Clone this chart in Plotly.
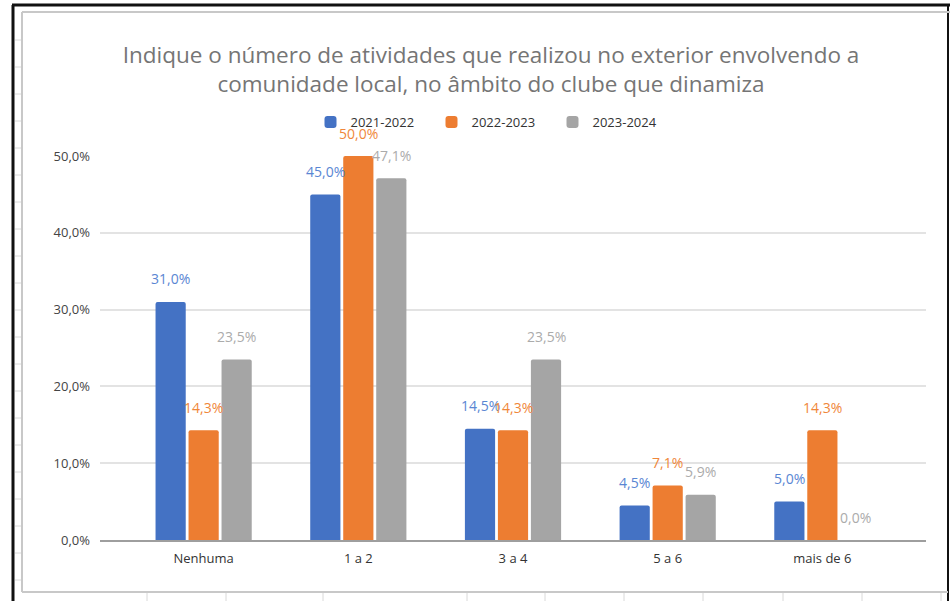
import plotly.graph_objects as go

categories = ["Nenhuma", "1 a 2", "3 a 4", "5 a 6", "mais de 6"]
series_names = ["2021-2022", "2022-2023", "2023-2024"]
v2122 = [31.0, 45.0, 14.5, 4.5, 5.0]
v2223 = [14.3, 50.0, 14.3, 7.1, 14.3]
v2324 = [23.5, 47.1, 23.5, 5.9, 0.0]
y_ticks = [0, 10, 20, 30, 40, 50]

series_values = [v2122, v2223, v2324]
bar_colors = ["#4472C4", "#ED7D31", "#A5A5A5"]
label_colors = ["#5A86D3", "#F0873A", "#ABABAB"]

W, H = 950, 601
L, R, T, B = 100, 24, 156, 61
BARGAP = 0.36
GROUPGAP = 0.085
FONT = "Open Sans"


def fmt(v):
    return f"{v:.1f}".replace(".", ",") + "%"


fig = go.Figure()
for name, vals, col in zip(series_names, series_values, bar_colors):
    fig.add_trace(go.Bar(x=categories, y=vals, name=name, marker_color=col,
                         marker_line_width=0))

annotations = []
slot = (1 - BARGAP) / len(series_values)
for i, (vals, lcol) in enumerate(zip(series_values, label_colors)):
    off = (i - (len(series_values) - 1) / 2) * slot
    for j, v in enumerate(vals):
        annotations.append(dict(x=j + off, y=v, xref="x", yref="y", text=fmt(v),
                                showarrow=False, yanchor="middle", yshift=23,
                                font=dict(family=FONT, size=14, color=lcol)))

pw, ph = W - L - R, H - T - B


def px(x):
    return (x - L) / pw


def py(y):
    return (H - B - y) / ph


shapes = []
def line(x0, y0, x1, y1, color, width):
    shapes.append(dict(type="line", xref="paper", yref="paper",
                       x0=px(x0), y0=py(y0), x1=px(x1), y1=py(y1),
                       line=dict(color=color, width=width), layer="above"))

# outer screenshot frame
line(12, 5, 950, 5, "#111111", 3)
line(13, 5, 13, 601, "#111111", 3)
line(948, 5, 948, 601, "#111111", 2)
# inner chart frame
line(22, 12, 950, 12, "#C8C8C8", 2)
line(22, 12, 22, 592, "#C8C8C8", 2)
line(22, 592, 948, 592, "#C8C8C8", 2)
# spreadsheet grid peeking below
for gx in [147, 226, 323, 467, 545, 624, 703, 783, 862, 941]:
    line(gx, 593, gx, 601, "#D8D8D8", 1)
for gy in range(40, 590, 27):
    line(15, gy, 21, gy, "#D8D8D8", 1)

fig.update_layout(
    width=W, height=H,
    margin=dict(l=L, r=R, t=T, b=B),
    paper_bgcolor="white", plot_bgcolor="white",
    separators=",.",
    barmode="group", bargap=BARGAP, bargroupgap=GROUPGAP,
    barcornerradius=2,
    font=dict(family=FONT, size=13, color="#444444"),
    title=dict(text="Indique o número de atividades que realizou no exterior envolvendo a<br>comunidade local, no âmbito do clube que dinamiza",
               x=px(491), xanchor="center", xref="paper",
               y=1 - 63 / H, yanchor="middle", yref="container",
               font=dict(family=FONT, size=22.5, color="#757575")),
    legend=dict(orientation="h", x=px(492), xanchor="center",
                y=py(122), yanchor="middle",
                font=dict(family=FONT, size=13, color="#333333"),
                itemwidth=30, entrywidth=76, traceorder="normal"),
    annotations=annotations,
    shapes=shapes,
    xaxis=dict(range=[-0.67, 4.67], showgrid=False, zeroline=False,
               showline=True, linecolor="#9E9E9E", linewidth=2,
               ticks="", ticklabelstandoff=5,
               tickfont=dict(family=FONT, size=13, color="#333333")),
    yaxis=dict(range=[0, 50], tickvals=y_ticks, ticktext=[fmt(t) for t in y_ticks],
               showgrid=True, gridcolor="#E3E3E3", gridwidth=1.5,
               zeroline=False, showline=False, ticks="", ticklabelstandoff=9,
               tickfont=dict(family=FONT, size=13, color="#444444")),
)
fig.update_traces(cliponaxis=False)

fig.write_html("out.html", config={"displayModeBar": False},
               post_script="document.body.style.margin='0';")
